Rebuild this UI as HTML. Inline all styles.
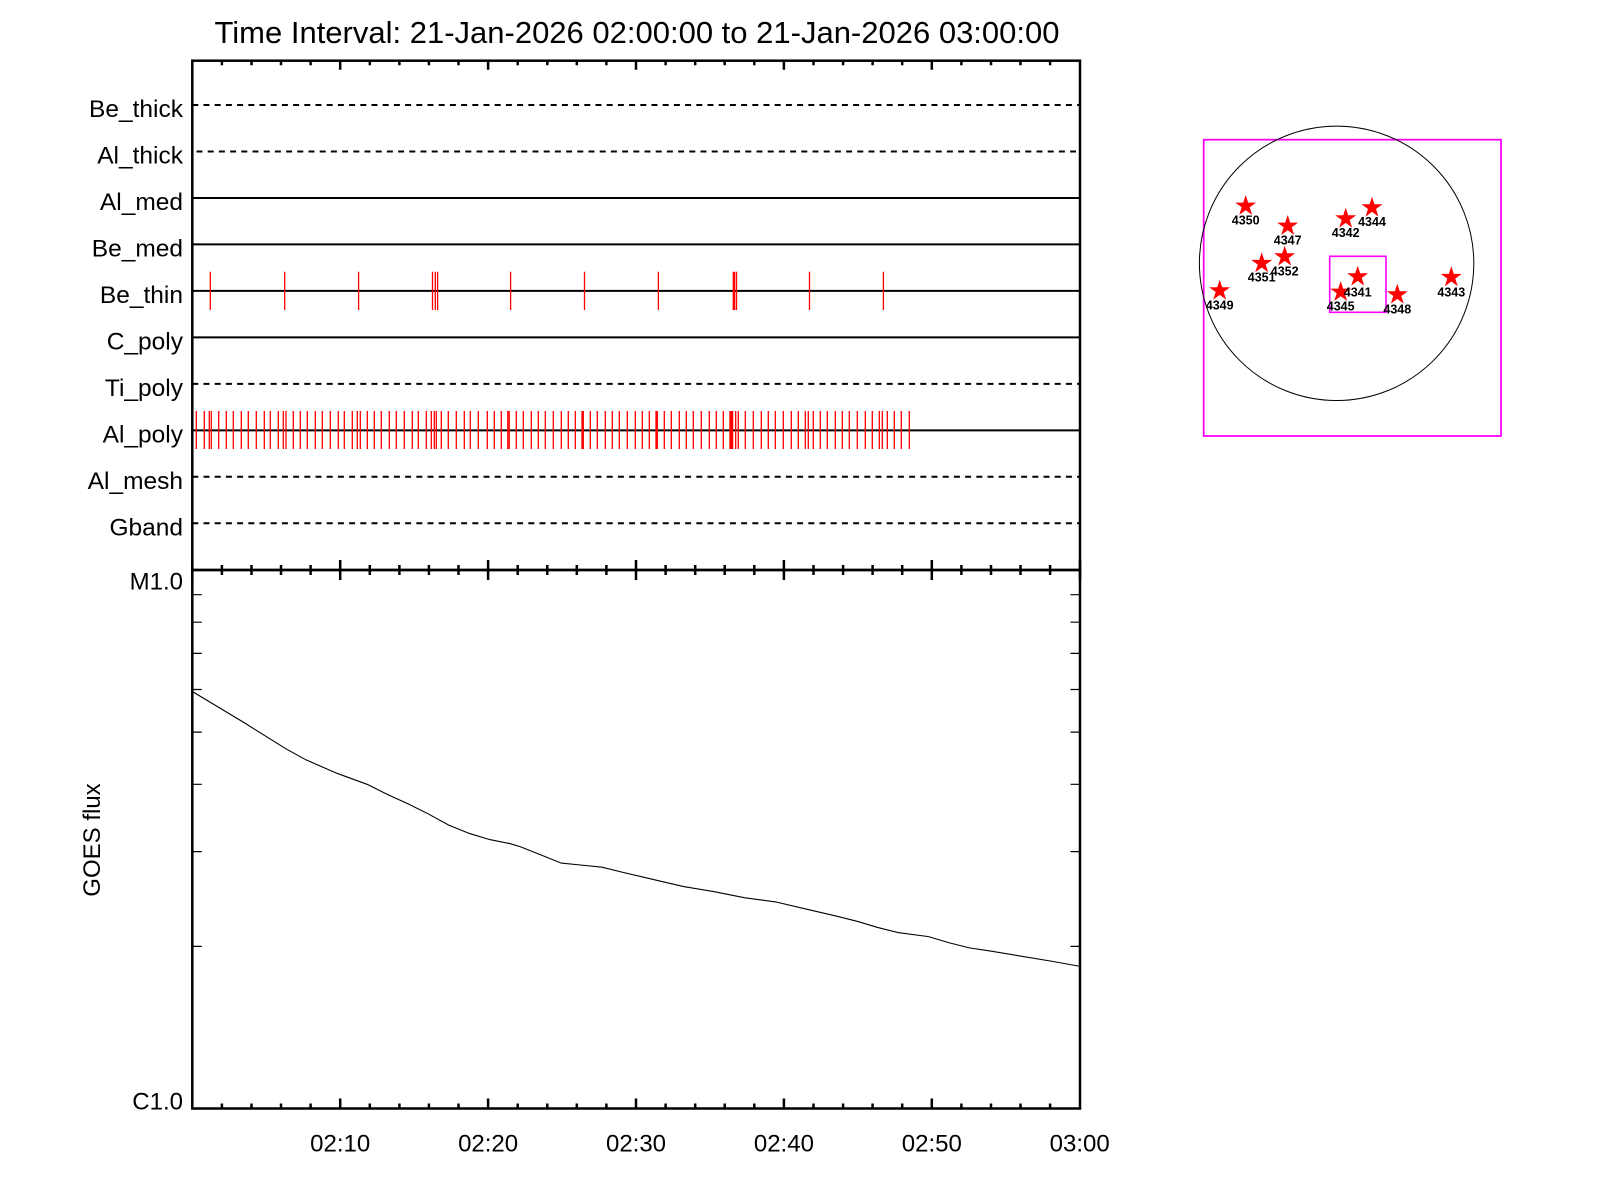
<!DOCTYPE html>
<html><head><meta charset="utf-8"><style>
html,body{margin:0;padding:0;background:#fff;}
svg{display:block;}
text{font-family:"Liberation Sans",sans-serif;fill:#000;}
</style></head><body>
<svg width="1600" height="1200" viewBox="0 0 1600 1200" xmlns="http://www.w3.org/2000/svg">
<rect width="1600" height="1200" fill="#fff"/>
<!-- Title -->
<text x="637" y="43" font-size="31" text-anchor="middle" textLength="845" lengthAdjust="spacingAndGlyphs">Time Interval: 21-Jan-2026 02:00:00 to 21-Jan-2026 03:00:00</text>

<!-- Upper panel lines -->
<g stroke="#000" stroke-width="2" fill="none">
<line x1="192.3" y1="105" x2="1080" y2="105" stroke-dasharray="6 5.2"/>
<line x1="196.5" y1="151.5" x2="1076" y2="151.5" stroke-dasharray="6 5.2"/>
<line x1="192.3" y1="198" x2="1080" y2="198"/>
<line x1="192.3" y1="244.4" x2="1080" y2="244.4"/>
<line x1="192.3" y1="290.9" x2="1080" y2="290.9"/>
<line x1="192.3" y1="337.4" x2="1080" y2="337.4"/>
<line x1="192.3" y1="383.9" x2="1080" y2="383.9" stroke-dasharray="6 5.2"/>
<line x1="192.3" y1="430.4" x2="1080" y2="430.4"/>
<line x1="192.3" y1="476.8" x2="1080" y2="476.8" stroke-dasharray="6 5.2"/>
<line x1="192.3" y1="523.3" x2="1080" y2="523.3" stroke-dasharray="6 5.2"/>
</g>

<!-- Be_thin red ticks -->
<path stroke="#f00" stroke-width="1.3" fill="none" d="
M210.3,271.7V310 M284.7,271.7V310 M358.6,271.7V310 M432.5,271.7V310 M435.3,271.7V310 M437.6,271.7V310
M510.6,271.7V310 M584.5,271.7V310 M658.4,271.7V310 M733.3,271.7V310 M734.6,271.7V310 M736.5,271.7V310
M809.5,271.7V310 M883.4,271.7V310"/>

<!-- Al_poly red ticks -->
<path stroke="#f00" stroke-width="1.3" fill="none" d="
M196.3,411V449 M204.3,411V449 M209.3,411V449 M211.3,411V449 M218.7,411V449 M226.3,411V449 M233.3,411V449
M241.3,411V449 M248.3,411V449 M256.3,411V449 M264.3,411V449 M270.3,411V449 M278.3,411V449 M283.3,411V449
M286,411V449 M293.3,411V449 M300.3,411V449 M307.3,411V449 M315.3,411V449 M322.3,411V449 M330.3,411V449
M338.3,411V449 M344.3,411V449 M352.3,411V449 M357.3,411V449 M360.3,411V449 M367.3,411V449 M374.3,411V449
M381.3,411V449 M389.3,411V449 M396.3,411V449 M404.3,411V449 M412.3,411V449 M418.3,411V449 M426.3,411V449
M431.3,411V449 M434.3,411V449 M436.3,411V449 M441.3,411V449 M448.3,411V449 M456.3,411V449 M464.3,411V449
M470.3,411V449 M478.3,411V449 M487.3,411V449 M494.3,411V449 M501.3,411V449 M507.8,411V449 M509.2,411V449
M516.3,411V449 M523.3,411V449 M531.3,411V449 M538.3,411V449 M545.3,411V449 M553.3,411V449 M561.3,411V449
M568.3,411V449 M575.3,411V449 M582,411V449 M583.3,411V449 M590.3,411V449 M597.3,411V449 M605.3,411V449
M612.3,411V449 M619.3,411V449 M627.3,411V449 M635.3,411V449 M642.3,411V449 M649.3,411V449 M656,411V449
M657.3,411V449 M664.3,411V449 M671.3,411V449 M679.3,411V449 M686.3,411V449 M693.3,411V449 M701.3,411V449
M709.3,411V449 M716.3,411V449 M723.3,411V449 M730,411V449 M731.3,411V449 M732.6,411V449 M735.7,411V449
M738.3,411V449 M745.3,411V449 M753.3,411V449 M761.3,411V449 M768.3,411V449 M775.3,411V449 M783.3,411V449
M791.3,411V449 M798.3,411V449 M805.3,411V449 M808.3,411V449 M813.3,411V449 M820.3,411V449 M827.3,411V449
M835.3,411V449 M842.3,411V449 M849.3,411V449 M857.3,411V449 M865.3,411V449 M872.3,411V449 M879.3,411V449
M882.3,411V449 M887.3,411V449 M894.3,411V449 M901.3,411V449 M909.3,411V449"/>

<!-- Row labels -->
<g font-size="24.5" text-anchor="end">
<text x="183" y="117">Be_thick</text>
<text x="183" y="163.5">Al_thick</text>
<text x="183" y="210">Al_med</text>
<text x="183" y="256.4">Be_med</text>
<text x="183" y="302.9">Be_thin</text>
<text x="183" y="349.4">C_poly</text>
<text x="183" y="395.9">Ti_poly</text>
<text x="183" y="442.4">Al_poly</text>
<text x="183" y="488.8">Al_mesh</text>
<text x="183" y="535.3">Gband</text>
</g>

<!-- Panel borders -->
<g stroke="#000" stroke-width="2.5" fill="none">
<rect x="192.3" y="60.7" width="887.7" height="509.3"/>
<rect x="192.3" y="570" width="887.7" height="538.5"/>
</g>

<!-- Time ticks -->
<path stroke="#000" stroke-width="2.5" fill="none" d="
M221.9,60.7v4.5 M251.5,60.7v4.5 M281,60.7v4.5 M310.6,60.7v4.5 M340.2,60.7v9 M369.8,60.7v4.5 M399.4,60.7v4.5 M428.9,60.7v4.5 M458.5,60.7v4.5 M488.1,60.7v9
M517.7,60.7v4.5 M547.3,60.7v4.5 M576.8,60.7v4.5 M606.4,60.7v4.5 M636,60.7v9 M665.6,60.7v4.5 M695.2,60.7v4.5 M724.7,60.7v4.5 M754.3,60.7v4.5 M783.9,60.7v9
M813.5,60.7v4.5 M843.1,60.7v4.5 M872.6,60.7v4.5 M902.2,60.7v4.5 M931.8,60.7v9 M961.4,60.7v4.5 M991,60.7v4.5 M1020.5,60.7v4.5 M1050.1,60.7v4.5
M221.9,565v10 M251.5,565v10 M281,565v10 M310.6,565v10 M340.2,560v20 M369.8,565v10 M399.4,565v10 M428.9,565v10 M458.5,565v10 M488.1,560v20
M517.7,565v10 M547.3,565v10 M576.8,565v10 M606.4,565v10 M636,560v20 M665.6,565v10 M695.2,565v10 M724.7,565v10 M754.3,565v10 M783.9,560v20
M813.5,565v10 M843.1,565v10 M872.6,565v10 M902.2,565v10 M931.8,560v20 M961.4,565v10 M991,565v10 M1020.5,565v10 M1050.1,565v10 M1080,560v20 M192.3,560v20
M221.9,1108.5v-5 M251.5,1108.5v-5 M281,1108.5v-5 M310.6,1108.5v-5 M340.2,1108.5v-10 M369.8,1108.5v-5 M399.4,1108.5v-5 M428.9,1108.5v-5 M458.5,1108.5v-5 M488.1,1108.5v-10
M517.7,1108.5v-5 M547.3,1108.5v-5 M576.8,1108.5v-5 M606.4,1108.5v-5 M636,1108.5v-10 M665.6,1108.5v-5 M695.2,1108.5v-5 M724.7,1108.5v-5 M754.3,1108.5v-5 M783.9,1108.5v-10
M813.5,1108.5v-5 M843.1,1108.5v-5 M872.6,1108.5v-5 M902.2,1108.5v-5 M931.8,1108.5v-10 M961.4,1108.5v-5 M991,1108.5v-5 M1020.5,1108.5v-5 M1050.1,1108.5v-5"/>

<!-- Log y ticks -->
<path stroke="#000" stroke-width="1.2" fill="none" d="
M192.3,594.7h9.5 M192.3,622.2h9.5 M192.3,653.4h9.5 M192.3,689.5h9.5 M192.3,732.1h9.5 M192.3,784.3h9.5 M192.3,851.6h9.5 M192.3,946.4h9.5
M1080,594.7h-9.5 M1080,622.2h-9.5 M1080,653.4h-9.5 M1080,689.5h-9.5 M1080,732.1h-9.5 M1080,784.3h-9.5 M1080,851.6h-9.5 M1080,946.4h-9.5"/>

<!-- Y labels -->
<g font-size="24" text-anchor="end">
<text x="183" y="589.5">M1.0</text>
<text x="183" y="1109.5">C1.0</text>
</g>
<text transform="translate(100,840) rotate(-90)" font-size="24" text-anchor="middle">GOES flux</text>

<!-- X labels -->
<g font-size="24" text-anchor="middle">
<text x="340.2" y="1151.5">02:10</text>
<text x="488.1" y="1151.5">02:20</text>
<text x="636" y="1151.5">02:30</text>
<text x="783.9" y="1151.5">02:40</text>
<text x="931.8" y="1151.5">02:50</text>
<text x="1079.7" y="1151.5">03:00</text>
</g>

<!-- GOES curve -->
<g transform="scale(1.0204,1.0214)">
<path fill="none" stroke="#000" stroke-width="1.1" vector-effect="non-scaling-stroke" d="M188.5,677 L240,708 L280,733 L300,744 L330,757 L360,768 L380,778 L400,787 L420,797 L440,808 L460,816 L480,822 L500,826 L510,829 L530,837 L550,845 L570,847 L590,849 L610,854 L640,861 L670,868 L700,873 L730,879 L760,883 L790,890 L820,897 L840,902 L860,908 L880,913 L910,917 L930,923 L950,928 L970,931 L1000,936 L1030,941 L1058,946"/>
</g>

<!-- Right panel -->
<rect x="1203.7" y="139.7" width="297.3" height="296.3" fill="none" stroke="#f0f" stroke-width="1.8"/>
<circle cx="1336.6" cy="263.3" r="137.2" fill="none" stroke="#000" stroke-width="1"/>
<rect x="1329.7" y="256.3" width="56.3" height="56" fill="none" stroke="#f0f" stroke-width="1.6"/>

<defs>
<polygon id="st" points="0,-11 2.47,-3.4 10.46,-3.4 4,1.3 6.47,8.9 0,4.2 -6.47,8.9 -4,1.3 -10.46,-3.4 -2.47,-3.4" fill="#f00"/>
</defs>
<use href="#st" x="1245.7" y="206"/>
<use href="#st" x="1287.7" y="226"/>
<use href="#st" x="1345.7" y="218.7"/>
<use href="#st" x="1372" y="207.7"/>
<use href="#st" x="1284.7" y="256.7"/>
<use href="#st" x="1261.7" y="263.3"/>
<use href="#st" x="1219.7" y="290.7"/>
<use href="#st" x="1357.7" y="276.7"/>
<use href="#st" x="1340.7" y="292"/>
<use href="#st" x="1397.3" y="294.7"/>
<use href="#st" x="1451.3" y="277.3"/>

<g font-size="12.5" font-weight="bold" text-anchor="middle">
<text x="1245.7" y="224.3">4350</text>
<text x="1287.7" y="244.3">4347</text>
<text x="1345.7" y="237">4342</text>
<text x="1372" y="226">4344</text>
<text x="1284.7" y="275.3">4352</text>
<text x="1261.7" y="281.6">4351</text>
<text x="1219.7" y="309.3">4349</text>
<text x="1357.7" y="296.3">4341</text>
<text x="1340.7" y="310.3">4345</text>
<text x="1397.3" y="313.3">4348</text>
<text x="1451.3" y="296.3">4343</text>
</g>
</svg>
</body></html>
